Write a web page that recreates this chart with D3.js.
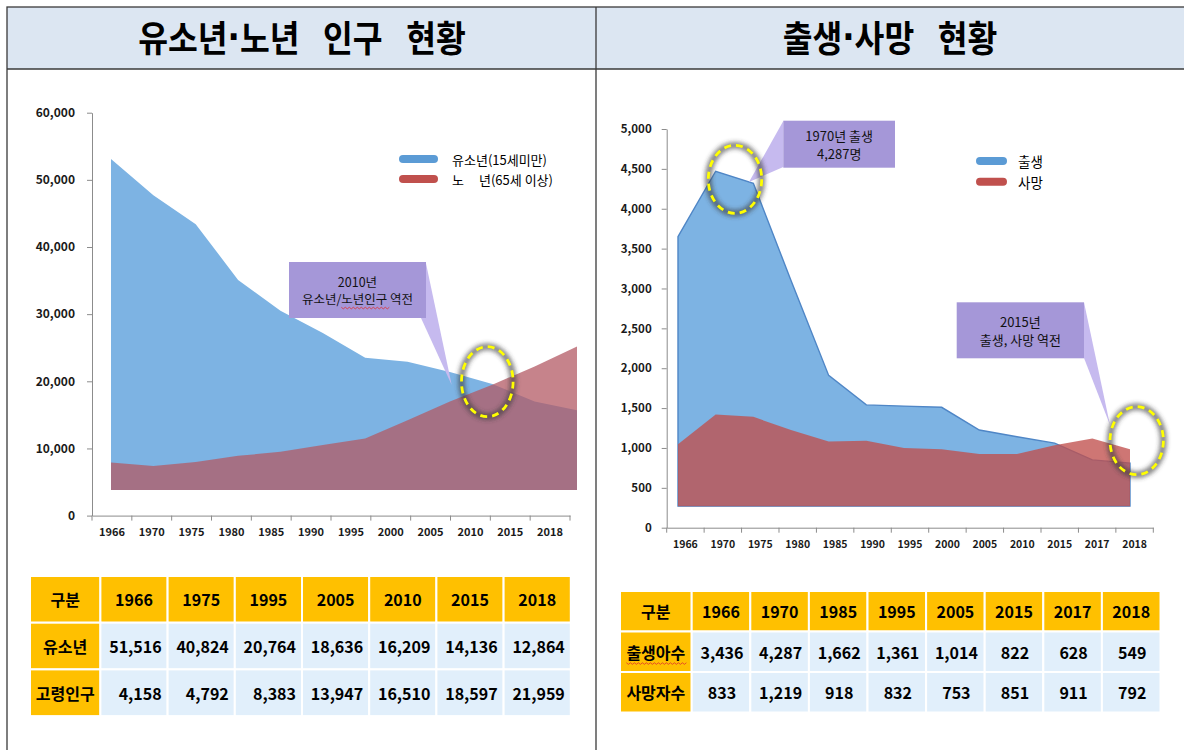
<!DOCTYPE html>
<html>
<head>
<meta charset="utf-8">
<script src="https://cdn.jsdelivr.net/npm/d3@7"></script>
<style>
body { margin: 0; background: #fff; }
svg { display: block; font-family: "Noto Sans CJK KR", "Noto Sans", sans-serif; }
.axis path, .axis line { stroke: #8c8c8c; }
.axis text { font-weight: bold; fill: #1a1a1a; }
.title { white-space: pre; }
</style>
</head>
<body>
<svg id="vis" width="1184" height="750"></svg>
<script>
// left chart: youth / elderly population
const yearsL = ["1966","1970","1975","1980","1985","1990","1995","2000","2005","2010","2015","2018"];
const youthL = [53100, 47700, 43400, 35100, 30500, 27200, 23500, 22900, 21400, 19600, 17000, 15700];
const elderL = [7900, 7400, 8000, 8900, 9500, 10500, 11500, 14200, 17000, 19500, 22200, 25200];
const baseL = 3800;
const ticksL = [0, 10000, 20000, 30000, 40000, 50000, 60000];

// right chart: births / deaths
const yearsR = ["1966","1970","1975","1980","1985","1990","1995","2000","2005","2010","2015","2017","2018"];
const birthR = [3650, 4470, 4320, 3100, 1910, 1540, 1525, 1510, 1225, 1140, 1060, 850, 810];
const deathR = [1045, 1420, 1390, 1225, 1080, 1090, 1000, 985, 925, 925, 1035, 1120, 985];
const baseR = 270;
const ticksR = [0, 500, 1000, 1500, 2000, 2500, 3000, 3500, 4000, 4500, 5000];

// tables
const tblYearsL = ["1966","1975","1995","2005","2010","2015","2018"];
const tblYouth = [51516, 40824, 20764, 18636, 16209, 14136, 12864];
const tblElder = [4158, 4792, 8383, 13947, 16510, 18597, 21959];
const tblYearsR = ["1966","1970","1985","1995","2005","2015","2017","2018"];
const tblBirth = [3436, 4287, 1662, 1361, 1014, 822, 628, 549];
const tblDeath = [833, 1219, 918, 832, 753, 851, 911, 792];

const svg = d3.select("#vis");
const fmt = d3.format(",");

const defs = svg.append("defs");
defs.append("filter").attr("id", "blur").attr("x", "-30%").attr("y", "-30%").attr("width", "160%").attr("height", "160%")
    .append("feGaussianBlur").attr("stdDeviation", 2);

// frame + title band
svg.append("rect").attr("x", 7).attr("y", 7).attr("width", 1200).attr("height", 62).attr("fill", "#dce6f2");
svg.append("rect").attr("x", 7).attr("y", 7).attr("width", 1200).attr("height", 800)
    .attr("fill", "none").attr("stroke", "#3a3a3a").attr("stroke-width", 1.3);
svg.append("line").attr("x1", 7).attr("x2", 1184).attr("y1", 69).attr("y2", 69).attr("stroke", "#3a3a3a").attr("stroke-width", 1.3);
svg.append("line").attr("x1", 596).attr("x2", 596).attr("y1", 7).attr("y2", 750).attr("stroke", "#3a3a3a").attr("stroke-width", 1.3);

// titles: condensed bold, narrow middle dot
const titles = [[["유소년", "노년\u2002 인구\u2002 현황"], 302], [["출생", "사망\u2002 현황"], 890]];
titles.forEach(t => {
    const tx = svg.append("text").attr("class", "title")
        .attr("transform", "translate(" + t[1] + ",36) scale(0.9,1)")
        .attr("text-anchor", "middle").attr("dominant-baseline", "central")
        .attr("font-size", 36).attr("font-weight", "bold");
    tx.append("tspan").text(t[0][0]);
    tx.append("tspan").attr("font-family", "DejaVu Sans").text("·");
    tx.append("tspan").text(t[0][1]);
});

// ---------- left chart ----------
const yL = d3.scaleLinear().domain([0, 60000]).range([515.6, 112.7]);
const xL = d3.scaleBand().domain(yearsL).range([92, 570]);
const pL = d3.scalePoint().domain(yearsL).range([111, 577]);

const areaL = vals => d3.area()
    .x((d, i) => pL(yearsL[i]))
    .y0(yL(baseL))
    .y1(d => yL(d))(vals);

svg.append("path").attr("d", areaL(youthL)).attr("fill", "#7db3e3");
svg.append("path").attr("d", areaL(elderL)).attr("fill", "#b35a64").attr("fill-opacity", 0.75);

const gyL = svg.append("g").attr("class", "axis").attr("transform", "translate(92,0)")
    .call(d3.axisLeft(yL).tickValues(ticksL).tickFormat(fmt).tickSize(5).tickSizeOuter(0).tickPadding(12));
gyL.attr("font-family", null).attr("font-size", 12);

const gxL = svg.append("g").attr("class", "axis").attr("transform", "translate(0," + yL(0) + ")")
    .call(d3.axisBottom(xL).tickSize(0).tickPadding(13).tickSizeOuter(0));
gxL.attr("font-family", null).attr("font-size", 11);
gxL.selectAll(".edge").data(yearsL.map(d => xL(d)).concat([xL.range()[1]]))
    .enter().append("line").attr("class", "edge")
    .attr("x1", d => d).attr("x2", d => d).attr("y1", 0).attr("y2", 5);

// legend left
const legL = [["유소년(15세미만)", "#5b9bd5", 159], ["년(65세 이상)", "#c0504d", 179]];
legL.forEach(l => {
    svg.append("line").attr("x1", 403).attr("x2", 434).attr("y1", l[2]).attr("y2", l[2])
        .attr("stroke", l[1]).attr("stroke-width", 8).attr("stroke-linecap", "round");
});
svg.append("text").attr("x", 452).attr("y", 159).attr("dominant-baseline", "central").attr("font-size", 13).text(legL[0][0]);
svg.append("text").attr("x", 452).attr("y", 179).attr("dominant-baseline", "central").attr("font-size", 13).text("노");
svg.append("text").attr("x", 479).attr("y", 179).attr("dominant-baseline", "central").attr("font-size", 13).text(legL[1][0]);

// callouts
function callout(box, tip, tail, lines, fs) {
    svg.append("polygon").attr("points", [tail[0], tail[1], tip].map(p => p.join(",")).join(" "))
        .attr("fill", "#c6baef");
    svg.append("rect").attr("x", box[0]).attr("y", box[1]).attr("width", box[2]).attr("height", box[3])
        .attr("fill", "#a597d8");
    const cx = box[0] + box[2] / 2;
    const texts = lines.map((t, i) => svg.append("text")
        .attr("x", cx).attr("y", box[1] + box[3] / 2 + (i - (lines.length - 1) / 2) * (fs + 5))
        .attr("text-anchor", "middle").attr("dominant-baseline", "central")
        .attr("font-size", fs).attr("fill", "#111").text(t));
    return texts;
}

function ring(cx, cy, rx, ry) {
    svg.append("ellipse").attr("cx", cx).attr("cy", cy).attr("rx", rx).attr("ry", ry)
        .attr("fill", "none").attr("stroke", "#3a3a3a").attr("stroke-opacity", 0.6)
        .attr("stroke-width", 7).attr("filter", "url(#blur)");
    svg.append("ellipse").attr("cx", cx).attr("cy", cy).attr("rx", rx).attr("ry", ry)
        .attr("fill", "none").attr("stroke", "#ffff00").attr("stroke-width", 2.8)
        .attr("stroke-dasharray", "7 5");
}

function squiggle(x0, x1, y) {
    let d = "M" + x0 + "," + y;
    for (let x = x0, k = 0; x < x1; x += 2, k++) d += "L" + (x + 2) + "," + (y + (k % 2 ? 0 : 1.6));
    svg.append("path").attr("d", d).attr("fill", "none").attr("stroke", "#e03030").attr("stroke-width", 0.8);
}

const c1 = callout([289, 262, 137, 56], [451.7, 385], [[425.7, 262], [421, 318]], ["2010년", "유소년/노년인구 역전"], 12.5);
{
    const node = c1[1].node();
    const bb = node.getBBox();
    const s = bb.x + node.getSubStringLength(0, 4);
    const w = node.getSubStringLength(4, 4);
    squiggle(s, s + w, bb.y + bb.height - 1);
}
ring(487.3, 381.7, 25.8, 35);

// ---------- right chart ----------
const yR = d3.scaleLinear().domain([0, 5000]).range([527.7, 129]);
const xR = d3.scaleBand().domain(yearsR).range([666.7, 1153.3]);
const pR = d3.scalePoint().domain(yearsR).range([678, 1130]);

const areaR = vals => d3.area()
    .x((d, i) => pR(yearsR[i]))
    .y0(yR(baseR))
    .y1(d => yR(d))(vals);

svg.append("path").attr("d", areaR(birthR) + "Z").attr("fill", "#7db3e3")
    .attr("stroke", "#4f86c6").attr("stroke-width", 1.4);
svg.append("path").attr("d", areaR(deathR)).attr("fill", "#c0504d").attr("fill-opacity", 0.78);

const gyR = svg.append("g").attr("class", "axis").attr("transform", "translate(666.7,0)")
    .call(d3.axisLeft(yR).tickValues(ticksR).tickFormat(fmt).tickSize(5).tickSizeOuter(0).tickPadding(10));
gyR.attr("font-family", null).attr("font-size", 11.5);

const gxR = svg.append("g").attr("class", "axis").attr("transform", "translate(0," + yR(0) + ")")
    .call(d3.axisBottom(xR).tickSize(0).tickPadding(13).tickSizeOuter(0));
gxR.attr("font-family", null).attr("font-size", 10.5);
gxR.selectAll(".edge").data(yearsR.map(d => xR(d)).concat([xR.range()[1]]))
    .enter().append("line").attr("class", "edge")
    .attr("x1", d => d).attr("x2", d => d).attr("y1", 0).attr("y2", 5);

// legend right
[["출생", "#5b9bd5", 161], ["사망", "#c0504d", 181.7]].forEach(l => {
    svg.append("line").attr("x1", 980).attr("x2", 1003).attr("y1", l[2]).attr("y2", l[2])
        .attr("stroke", l[1]).attr("stroke-width", 8).attr("stroke-linecap", "round");
    svg.append("text").attr("x", 1018).attr("y", l[2]).attr("dominant-baseline", "central")
        .attr("font-size", 13.5).text(l[0]);
});

callout([783.3, 120.7, 111.7, 47], [749, 182], [[783.3, 121], [783.3, 167]], ["1970년 출생", "4,287명"], 13);
ring(735, 179.3, 26.7, 34);
callout([956.7, 302.3, 127.3, 56], [1110, 425], [[1084, 302.3], [1084, 358]], ["2015년", "출생, 사망 역전"], 13);
ring(1136.7, 440.7, 26.7, 34);

// ---------- tables ----------
function table(x0, y0, firstW, colW, rowH, heads, rows, align) {
    const xs = d3.scaleBand().domain(heads).range([x0 + firstW, x0 + firstW + colW * heads.length]);
    const g = svg.append("g").attr("font-weight", "bold").attr("font-size", 16);
    const cell = (x, y, w, fill) => g.append("rect").attr("x", x).attr("y", y).attr("width", w).attr("height", rowH)
        .attr("fill", fill).attr("stroke", "#fff").attr("stroke-width", 2);
    const txt = (x, y, t, anchor) => g.append("text").attr("x", x).attr("y", y + rowH / 2)
        .attr("text-anchor", anchor).attr("dominant-baseline", "central").text(t);

    cell(x0, y0, firstW, "#ffc000");
    txt(x0 + firstW / 2, y0, "구분", "middle");
    heads.forEach(h => {
        cell(xs(h), y0, colW, "#ffc000");
        txt(xs(h) + colW / 2, y0, h, "middle");
    });
    const labels = [];
    rows.forEach((r, ri) => {
        const y = y0 + rowH * (ri + 1);
        cell(x0, y, firstW, "#ffc000");
        labels.push(txt(x0 + firstW / 2, y, r[0], "middle"));
        r[1].forEach((v, i) => {
            cell(xs(heads[i]), y, colW, "#e1effb");
            if (align === "end") txt(xs(heads[i]) + colW - 6, y, fmt(v), "end");
            else txt(xs(heads[i]) + colW / 2 + 1, y, fmt(v), "middle");
        });
    });
    return labels;
}

table(30, 576, 70.4, 67.2, 46.7, tblYearsL, [["유소년", tblYouth], ["고령인구", tblElder]], "end");
const rl = table(620, 591, 71.7, 58.6, 40.5, tblYearsR, [["출생아수", tblBirth], ["사망자수", tblDeath]], "middle");
{
    const bb = rl[0].node().getBBox();
    squiggle(bb.x, bb.x + bb.width, bb.y + bb.height - 1);
}
</script>
</body>
</html>
